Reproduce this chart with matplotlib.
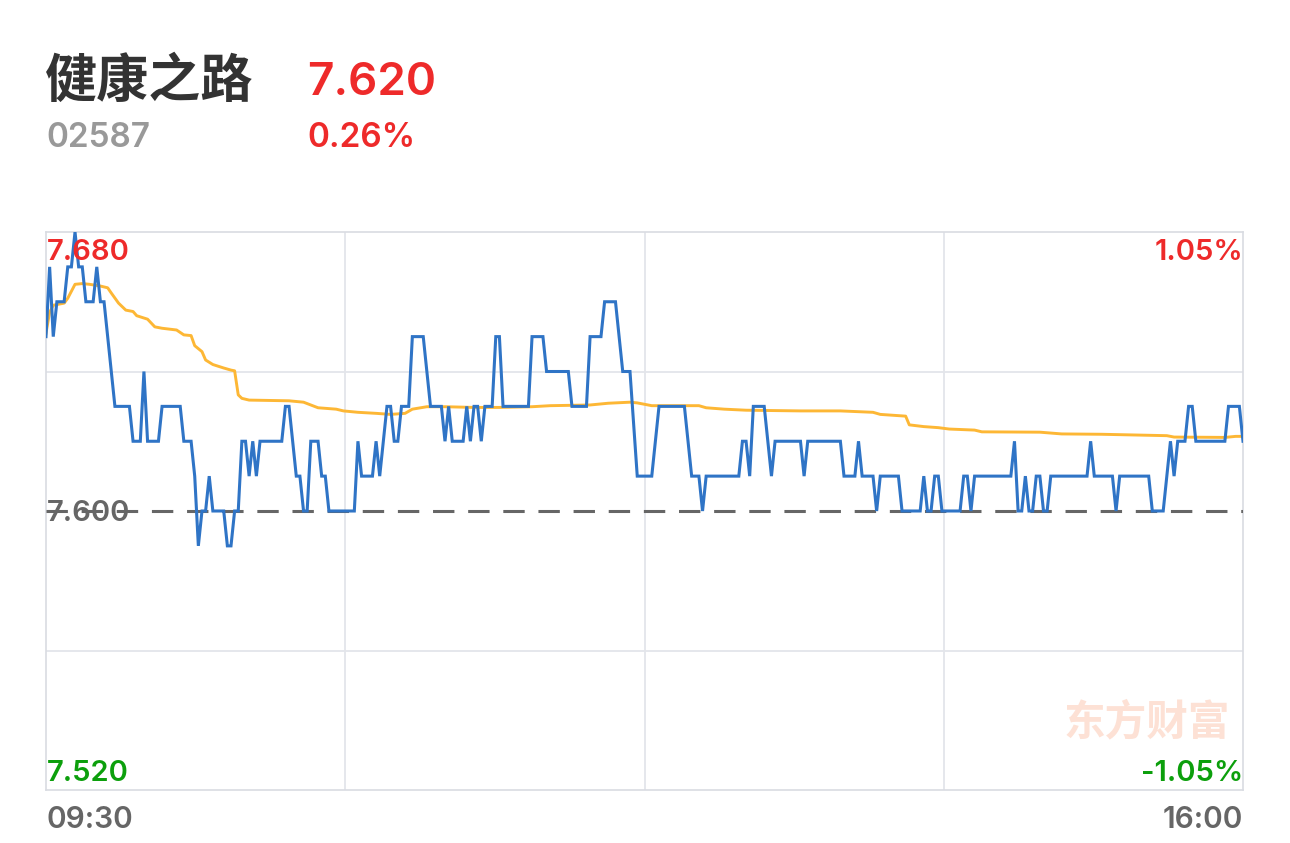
import matplotlib
matplotlib.use("Agg")
import matplotlib.pyplot as plt

# stock header
stock_name = "健康之路"
stock_code = "02587"
last_price = "7.620"
change_pct = "0.26%"

# y range labels
price_labels = ["7.680", "7.600", "7.520"]
pct_labels = ["1.05%", "-1.05%"]
time_labels = ["09:30", "16:00"]

pre_close = 7.60
y_min, y_max = 7.52, 7.68
n_minutes = 330

# price line vertices (minute index, price)
price_idx = [0, 1, 2, 3, 5, 6, 7, 8, 9, 10, 11, 13, 14, 15, 16, 19, 23, 24, 26, 27,
             28, 31, 32, 37, 38, 40, 41, 42, 43, 44, 45, 46, 49, 50, 51, 52, 53, 54, 55, 56,
             57, 58, 59, 65, 66, 67, 69, 70, 71, 72, 73, 75, 76, 77, 78, 85, 86, 87, 90, 91,
             92, 94, 95, 96, 97, 98, 100, 101, 104, 106, 109, 110, 111, 112, 115, 116, 117, 118, 119, 120,
             121, 123, 124, 125, 126, 133, 134, 137, 138, 144, 145, 149, 150, 153, 154, 157, 159, 161, 163, 167,
             169, 176, 178, 180, 181, 182, 191, 192, 193, 194, 195, 198, 200, 201, 208, 209, 210, 219, 220, 223,
             224, 225, 228, 229, 230, 235, 236, 241, 242, 243, 244, 245, 246, 247, 252, 253, 254, 255, 256, 266,
             267, 268, 269, 270, 271, 272, 273, 274, 275, 276, 277, 287, 288, 289, 294, 295, 296, 304, 305, 308,
             310, 311, 312, 314, 315, 316, 317, 325, 326, 329, 330]
price_val = [7.65, 7.67, 7.65, 7.66, 7.66, 7.67, 7.67, 7.68, 7.67, 7.67, 7.66, 7.66, 7.67, 7.66, 7.66, 7.63, 7.63, 7.62, 7.62, 7.64,
             7.62, 7.62, 7.63, 7.63, 7.62, 7.62, 7.61, 7.59, 7.60, 7.60, 7.61, 7.60, 7.60, 7.59, 7.59, 7.60, 7.60, 7.62, 7.62, 7.61,
             7.62, 7.61, 7.62, 7.62, 7.63, 7.63, 7.61, 7.61, 7.60, 7.60, 7.62, 7.62, 7.61, 7.61, 7.60, 7.60, 7.62, 7.61, 7.61, 7.62,
             7.61, 7.63, 7.63, 7.62, 7.62, 7.63, 7.63, 7.65, 7.65, 7.63, 7.63, 7.62, 7.63, 7.62, 7.62, 7.63, 7.62, 7.63, 7.63, 7.62,
             7.63, 7.63, 7.65, 7.65, 7.63, 7.63, 7.65, 7.65, 7.64, 7.64, 7.63, 7.63, 7.65, 7.65, 7.66, 7.66, 7.64, 7.64, 7.61, 7.61,
             7.63, 7.63, 7.61, 7.61, 7.60, 7.61, 7.61, 7.62, 7.62, 7.61, 7.63, 7.63, 7.61, 7.62, 7.62, 7.61, 7.62, 7.62, 7.61, 7.61,
             7.62, 7.61, 7.61, 7.60, 7.61, 7.61, 7.60, 7.60, 7.61, 7.60, 7.60, 7.61, 7.61, 7.60, 7.60, 7.61, 7.61, 7.60, 7.61, 7.61,
             7.62, 7.60, 7.60, 7.61, 7.60, 7.60, 7.61, 7.61, 7.60, 7.60, 7.61, 7.61, 7.62, 7.61, 7.61, 7.60, 7.61, 7.61, 7.60, 7.60,
             7.62, 7.61, 7.62, 7.62, 7.63, 7.63, 7.62, 7.62, 7.63, 7.63, 7.62]

# average price line (minute index, price)
avg_idx = [0, 1, 2, 5, 6, 7, 8, 10, 12, 15, 17, 18, 20, 22, 24, 25, 28, 30, 32, 36,
           38, 40, 41, 43, 44, 46, 49, 51, 52, 53, 54, 56, 67, 71, 75, 80, 82, 84, 86, 91,
           95, 99, 101, 105, 110, 118, 125, 134, 139, 150, 155, 161, 163, 167, 180, 182, 187, 193, 208, 219,
           228, 230, 237, 238, 242, 246, 249, 256, 258, 274, 280, 291, 309, 311, 325, 328, 330]
avg_val = [7.6510, 7.6570, 7.6590, 7.6596, 7.6610, 7.6630, 7.6650, 7.6652, 7.6650, 7.6645, 7.6640, 7.6625, 7.6596, 7.6576, 7.6572, 7.6560, 7.6550, 7.6528, 7.6524, 7.6519,
           7.6505, 7.6503, 7.6474, 7.6457, 7.6433, 7.6420, 7.6410, 7.6404, 7.6402, 7.6333, 7.6323, 7.6318, 7.6316, 7.6312, 7.6296, 7.6292, 7.6287, 7.6285, 7.6283, 7.6280,
           7.6277, 7.6280, 7.6292, 7.6299, 7.6299, 7.6297, 7.6297, 7.6299, 7.6302, 7.6304, 7.6309, 7.6312, 7.6310, 7.6302, 7.6302, 7.6296, 7.6292, 7.6289, 7.6287, 7.6287,
           7.6283, 7.6277, 7.6272, 7.6247, 7.6242, 7.6239, 7.6235, 7.6232, 7.6227, 7.6226, 7.6221, 7.6220, 7.6216, 7.6212, 7.6211, 7.6214, 7.6214]

red = "#ee2a2a"
green = "#0c9f0c"
W, H = 1290, 843

fig = plt.figure(figsize=(W / 100, H / 100), dpi=100)
fig.patch.set_facecolor("white")

# axes box in pixels: x 46..1243, y 232..790
ax = fig.add_axes([46 / W, 1 - 790 / H, (1243 - 46) / W, (790 - 232) / H])
ax.set_xlim(0, n_minutes)
ax.set_ylim(y_min, y_max)
ax.set_xticks([])
ax.set_yticks([])
for s in ax.spines.values():
    s.set_color("#d9dce2")
    s.set_linewidth(1.2)

# grid
for q in [0.25, 0.5, 0.75]:
    ax.axvline(n_minutes * q, color="#e3e5ea", lw=1.3, zorder=1)
for yv in [7.64, 7.56]:
    ax.axhline(yv, color="#e3e5ea", lw=1.3, zorder=1)
ax.axhline(pre_close, color="#666666", lw=2.2, ls=(0, (7, 4.5)), zorder=3)

# lines
ax.plot(avg_idx, avg_val, color="#fdb735", lw=2.1, zorder=4)
ax.plot(price_idx, price_val, color="#2f74c6", lw=2.2, zorder=5,
        solid_joinstyle="miter")

num_font = ["Inter", "Liberation Sans", "DejaVu Sans"]
nw = "semibold"


def ptext(x, y, s, color, size, ha="left"):
    # x, y in pixels of the picture, y is the text baseline
    fig.text(x / W, 1 - y / H, s, color=color, fontsize=size, family=num_font,
             weight=nw, ha=ha, va="baseline", zorder=2)


# labels inside the chart box
ptext(47, 260, price_labels[0], red, 21)
ptext(47, 521, price_labels[1], "#666666", 21)
ptext(47, 781, price_labels[2], green, 21)
ptext(1243, 260, pct_labels[0], red, 21, ha="right")
ptext(1243, 781, pct_labels[1], green, 21, ha="right")

# watermark
fig.text(1230 / W, 1 - 722 / H, "东方财富", color="#fde1d5", fontsize=30,
         family=["Noto Sans CJK SC"], weight="bold", ha="right", va="center", zorder=0)

# time labels
ptext(47, 828, time_labels[0], "#666666", 21.5)
ptext(1243, 828, time_labels[1], "#666666", 21.5, ha="right")

# header
fig.text(45 / W, 1 - 81 / H, stock_name, color="#333333", fontsize=37.5,
         family=["Noto Sans CJK SC"], weight="bold", ha="left", va="center")
ptext(307, 95, last_price, red, 33)
ptext(46, 147, stock_code, "#999999", 24)
ptext(307, 147, change_pct, red, 24)

fig.savefig("out.png", dpi=100, facecolor="white")
